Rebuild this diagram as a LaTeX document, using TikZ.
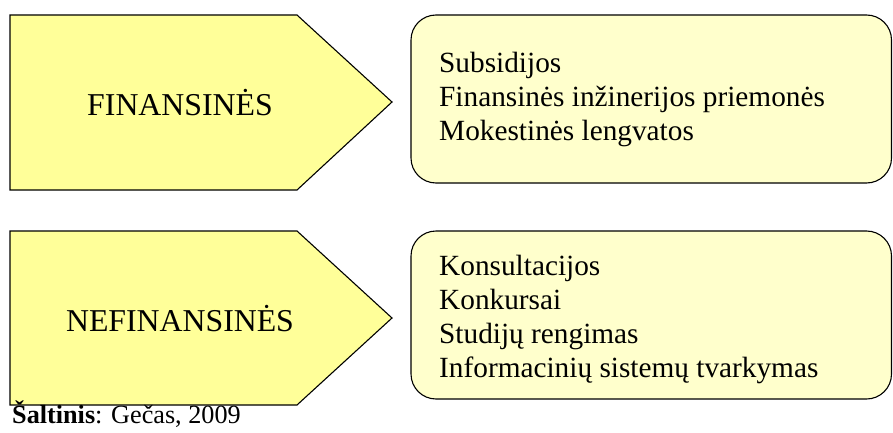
\documentclass[tikz,border=0pt]{standalone}
\usepackage{fontspec}
\setmainfont{Liberation Serif}
\definecolor{arrowfill}{HTML}{FFFF99}
\definecolor{boxfill}{HTML}{FFFFCC}
\begin{document}
\begin{tikzpicture}[x=1pt,y=-1pt,
  arrowshape/.style={draw=black, fill=arrowfill, line width=1.1pt, line join=miter},
  rbox/.style={draw=black, fill=boxfill, line width=1.1pt, rounded corners=25pt},
  biglabel/.style={font=\fontsize{31.8}{34}\selectfont, inner sep=0pt},
  itemtext/.style={font=\fontsize{29.3}{34}\selectfont, align=left, anchor=west, inner sep=0pt},
  srccap/.style={font=\fontsize{26.2}{30}\selectfont, anchor=base west, inner sep=0pt}]
\useasboundingbox (0,0) rectangle (893,433);
% arrows
\draw[arrowshape] (10,15) -- (297,15) -- (392,102) -- (297,190) -- (10,190) -- cycle;
\draw[arrowshape] (10,231) -- (297,231) -- (392,318) -- (297,405) -- (10,405) -- cycle;
\node[biglabel] (fin) at (180,103) {FINANSINĖS};
\node[biglabel] (nefin) at (180,319) {NEFINANSINĖS};
% boxes
\draw[rbox] (411,15) rectangle (891.5,183);
\draw[rbox] (411,231) rectangle (891.5,399);
\node[itemtext] (t1) at (439,99) {Subsidijos\\Finansinės inžinerijos priemonės\\Mokestinės lengvatos};
\node[itemtext] (t2) at (439,319) {Konsultacijos\\Konkursai\\Studijų rengimas\\Informacinių sistemų tvarkymas};
% source
\node[srccap] (src) at (12,423) {\textbf{Šaltinis}: Gečas, 2009};
\end{tikzpicture}
\end{document}
